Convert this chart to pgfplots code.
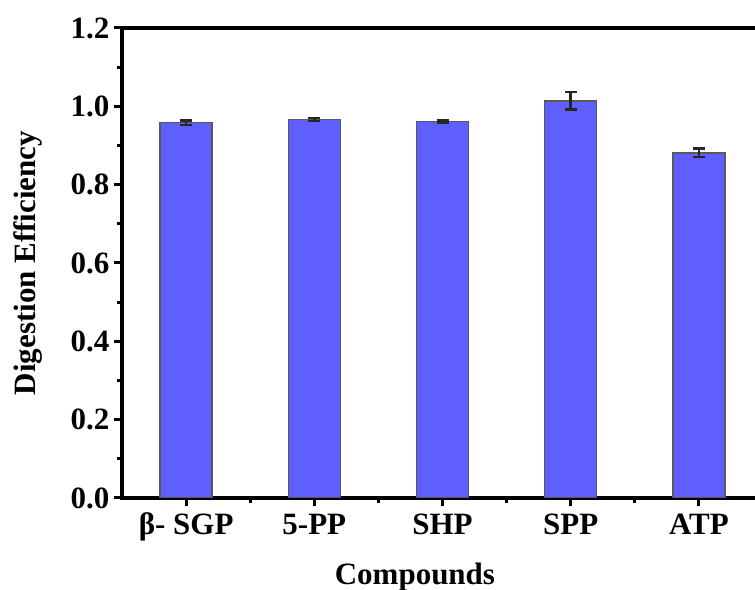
\documentclass[border=0pt]{standalone}
\usepackage{fontspec}
\setmainfont{Liberation Serif}
\usepackage{pgfplots}
\pgfplotsset{compat=1.18}
\definecolor{barblue}{HTML}{5F5FFF}
\begin{document}
\begin{tikzpicture}
\begin{axis}[
  name=ax,
  scale only axis,
  width=641pt, height=470pt,
  xmin=-0.5, xmax=4.5,
  ymin=0, ymax=1.2,
  xtick={0,1,2,3,4},
  xticklabels={β- SGP,5-PP,SHP,SPP,ATP},
  minor xtick={0.5,1.5,2.5,3.5},
  ytick={0,0.2,0.4,0.6,0.8,1.0,1.2},
  minor ytick={0.1,0.3,0.5,0.7,0.9,1.1},
  yticklabel style={/pgf/number format/fixed, /pgf/number format/fixed zerofill, /pgf/number format/precision=1, xshift=-1pt},
  /pgf/number format/assume math mode=true,
  tick label style={font=\fontsize{31}{34}\selectfont\bfseries},
  xticklabel style={text height=22pt, text depth=7pt, yshift=-3pt},
  tick align=outside,
  tick pos=left,
  major tick length=8pt,
  minor tick length=5pt,
  every tick/.style={black, line width=3pt},
  axis line style={line width=3.5pt},
  xlabel={Compounds},
  ylabel={Digestion Efficiency},
  label style={font=\fontsize{31}{34}\selectfont\bfseries},
  xlabel style={at={(axis description cs:0.457,-0.168)}, anchor=center},
  ylabel style={at={(axis description cs:-0.1466,0.5)}, anchor=center},
  ybar, bar width=52pt,
]
\addplot[fill=barblue, draw=black!65, line width=1.4pt,
  error bars/.cd, y dir=both, y explicit,
  error bar style={line width=2.5pt, black!85},
  error mark options={rotate=90, mark size=6pt, line width=2.5pt, black!85}]
  coordinates {
  (0,0.958) +- (0,0.006)
  (1,0.966) +- (0,0.004)
  (2,0.961) +- (0,0.003)
  (3,1.014) +- (0,0.022)
  (4,0.881) +- (0,0.011)
};
\end{axis}
\pgfresetboundingbox
\useasboundingbox ([xshift=-122pt,yshift=-92pt]ax.south west) rectangle ([xshift=633pt,yshift=28pt]ax.north west);
\end{tikzpicture}
\end{document}
